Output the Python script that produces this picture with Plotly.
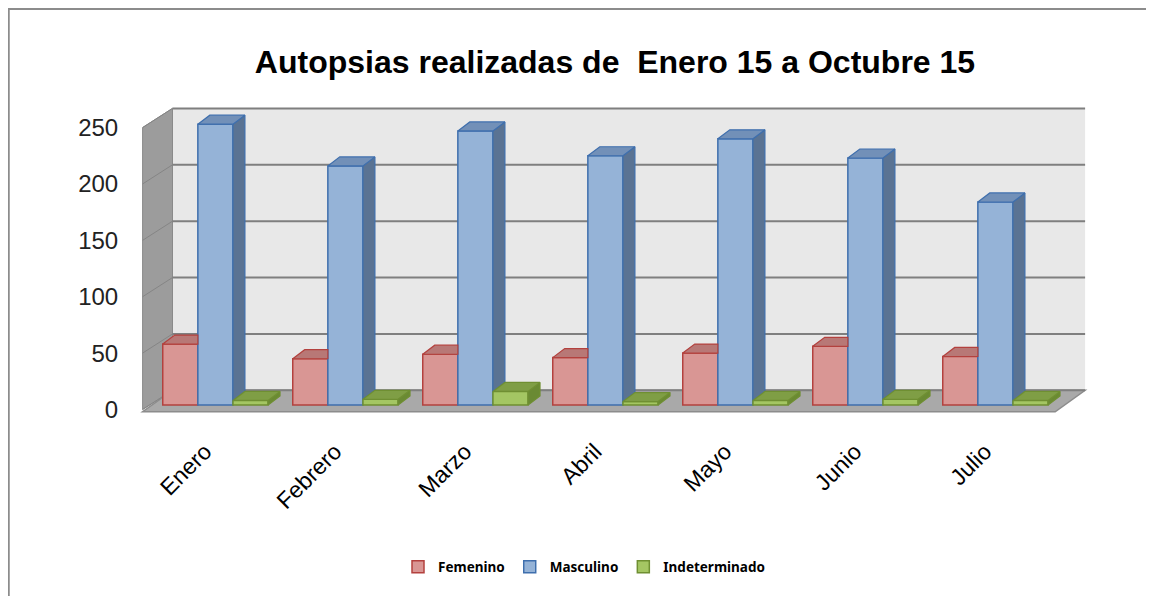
import plotly.graph_objects as go

# ---------------- data ----------------
months = ["Enero", "Febrero", "Marzo", "Abril", "Mayo", "Junio", "Julio"]
femenino = [54, 41, 45, 42, 46, 52, 43]
masculino = [249, 212, 243, 221, 236, 219, 180]
indeterminado = [4, 5, 12, 3, 4, 5, 4]
series_names = ["Femenino", "Masculino", "Indeterminado"]
y_ticks = [0, 50, 100, 150, 200, 250]
title_text = "Autopsias realizadas de \u00a0Enero 15 a Octubre 15"

# ---------------- style ----------------
# the page body adds an 8px margin, so the figure is laid out 8px smaller
W, H = 1146, 588
ML, MR, MT, MB = 132, 65, 97, 181.5
XR = [-0.58, 6.72]
YR = [-4, 270]
BAR_SHIFT = 4  # bars stand a little behind the front edge of the floor

front_col = ["#d99694", "#95b3d7", "#a4c663"]
edge_col = ["#b3413e", "#3f6fad", "#6f8f32"]
top_col = ["#b87876", "#7290b8", "#7f9e45"]
side_col = ["#a05856", "#5a7393", "#6a8a33"]

bw = 0.27            # bar width (x units)
offs = [-bw, 0, bw]  # offsets in group
bdx, bdy = 0.092, 8  # bar depth (x units, y units)
Dx, Dy = 0.23, 17    # chart depth
x0w, x1w = -0.56, 6.46  # floor front edges

series = [femenino, masculino, indeterminado]
xpos = list(range(len(months)))

fig = go.Figure()

# --------- walls & floor (shapes) ----------
shapes = []
shapes.append(dict(type="rect", xref="x", yref="y", x0=x0w + Dx, x1=x1w + Dx,
                   y0=Dy, y1=y_ticks[-1] + Dy, fillcolor="#e8e8e8",
                   line=dict(width=0), layer="below"))
shapes.append(dict(type="path", xref="x", yref="y", layer="below",
                   path=f"M {x0w},0 L {x0w},{y_ticks[-1]} L {x0w+Dx},{y_ticks[-1]+Dy} L {x0w+Dx},{Dy} Z",
                   fillcolor="#9c9c9c", line=dict(color="#8a8a8a", width=1)))
shapes.append(dict(type="path", xref="x", yref="y", layer="below",
                   path=f"M {x0w},{-2} L {x1w},{-2} L {x1w+Dx},{Dy} L {x0w+Dx},{Dy} Z",
                   fillcolor="#a9a9a9", line=dict(color="#8c8c8c", width=1.5)))
for v in y_ticks:
    shapes.append(dict(type="line", xref="x", yref="y", layer="below",
                       x0=x0w + Dx, x1=x1w + Dx, y0=v + Dy, y1=v + Dy,
                       line=dict(color="#7f7f7f", width=2)))
    shapes.append(dict(type="line", xref="x", yref="y", layer="below",
                       x0=x0w, x1=x0w + Dx, y0=v, y1=v + Dy,
                       line=dict(color="#858585", width=1)))

def px2paper_x(px):
    return (px - ML) / (W - ML - MR)

def px2paper_y(py):
    return (H - MB - py) / (H - MT - MB)

shapes.append(dict(type="line", xref="paper", yref="paper",
                   x0=px2paper_x(0), x1=px2paper_x(W + 10), y0=px2paper_y(0.5), y1=px2paper_y(0.5),
                   line=dict(color="#8c8c8c", width=2.5)))
shapes.append(dict(type="line", xref="paper", yref="paper",
                   x0=px2paper_x(0.5), x1=px2paper_x(0.5), y0=px2paper_y(0), y1=px2paper_y(H + 10),
                   line=dict(color="#8c8c8c", width=2.5)))

# --------- bars: front faces ----------
for s in range(3):
    fig.add_trace(go.Bar(
        x=[i + offs[s] for i in xpos], y=series[s], width=bw, name=series_names[s],
        yaxis="y2",
        marker=dict(color=front_col[s], line=dict(color=edge_col[s], width=1.5)),
        showlegend=True))

# --------- 3D faces computed from the data ----------
for s in range(3):
    tx, ty, sx, sy = [], [], [], []
    for i in xpos:
        h = series[s][i]
        xl = i + offs[s] - bw / 2
        xr = i + offs[s] + bw / 2
        nxt = series[s + 1][i] if s < 2 else None
        if nxt is not None and nxt >= h + bdy:
            tx += [xl, xr, xr, xl + bdx, xl, None]
        else:
            tx += [xl, xr, xr + bdx, xl + bdx, xl, None]
        ty += [h, h, h + bdy, h + bdy, h, None]
        base = 0 if nxt is None else nxt
        if h > base:
            sx += [xr, xr, xr + bdx, xr + bdx, xr, None]
            sy += [base, h, h + bdy, base + bdy, base, None]
    fig.add_trace(go.Scatter(x=sx, y=sy, yaxis="y2", fill="toself", fillcolor=side_col[s],
                             mode="lines", line=dict(color=edge_col[s], width=1.2),
                             showlegend=False, hoverinfo="skip"))
    fig.add_trace(go.Scatter(x=tx, y=ty, yaxis="y2", fill="toself", fillcolor=top_col[s],
                             mode="lines", line=dict(color=edge_col[s], width=1.2),
                             showlegend=False, hoverinfo="skip"))

fig.update_layout(
    width=W, height=H,
    margin=dict(l=ML, r=MR, t=MT, b=MB),
    paper_bgcolor="white", plot_bgcolor="rgba(0,0,0,0)",
    barmode="overlay",
    shapes=shapes,
    title=dict(text=title_text, x=607 / W, xref="container", xanchor="center",
               y=1 - 54 / H, yref="container", yanchor="middle",
               font=dict(family="Liberation Sans, Arial", size=32, color="black", weight="bold")),
    xaxis=dict(range=XR, tickvals=[i - 0.08 for i in xpos], ticktext=months, tickangle=-45,
               showgrid=False, zeroline=False, showline=False,
               ticks="outside", ticklen=14, tickcolor="rgba(0,0,0,0)",
               tickfont=dict(family="Liberation Sans, Arial", size=23, color="black")),
    yaxis=dict(range=YR, tickvals=y_ticks, showgrid=False, zeroline=False, showline=False,
               ticks="outside", ticklen=16, tickcolor="rgba(0,0,0,0)",
               tickfont=dict(family="Liberation Sans, Arial", size=24, color="#222")),
    yaxis2=dict(range=[YR[0] - BAR_SHIFT, YR[1] - BAR_SHIFT], overlaying="y", visible=False),
    legend=dict(orientation="h", x=576 / W, xanchor="center", xref="container",
                y=1 - 559 / H, yanchor="middle", yref="container",
                font=dict(family="Noto Sans", size=13.5, color="black", weight="bold"),
                itemwidth=30, tracegroupgap=0),
)

fig.write_html("out.html")
